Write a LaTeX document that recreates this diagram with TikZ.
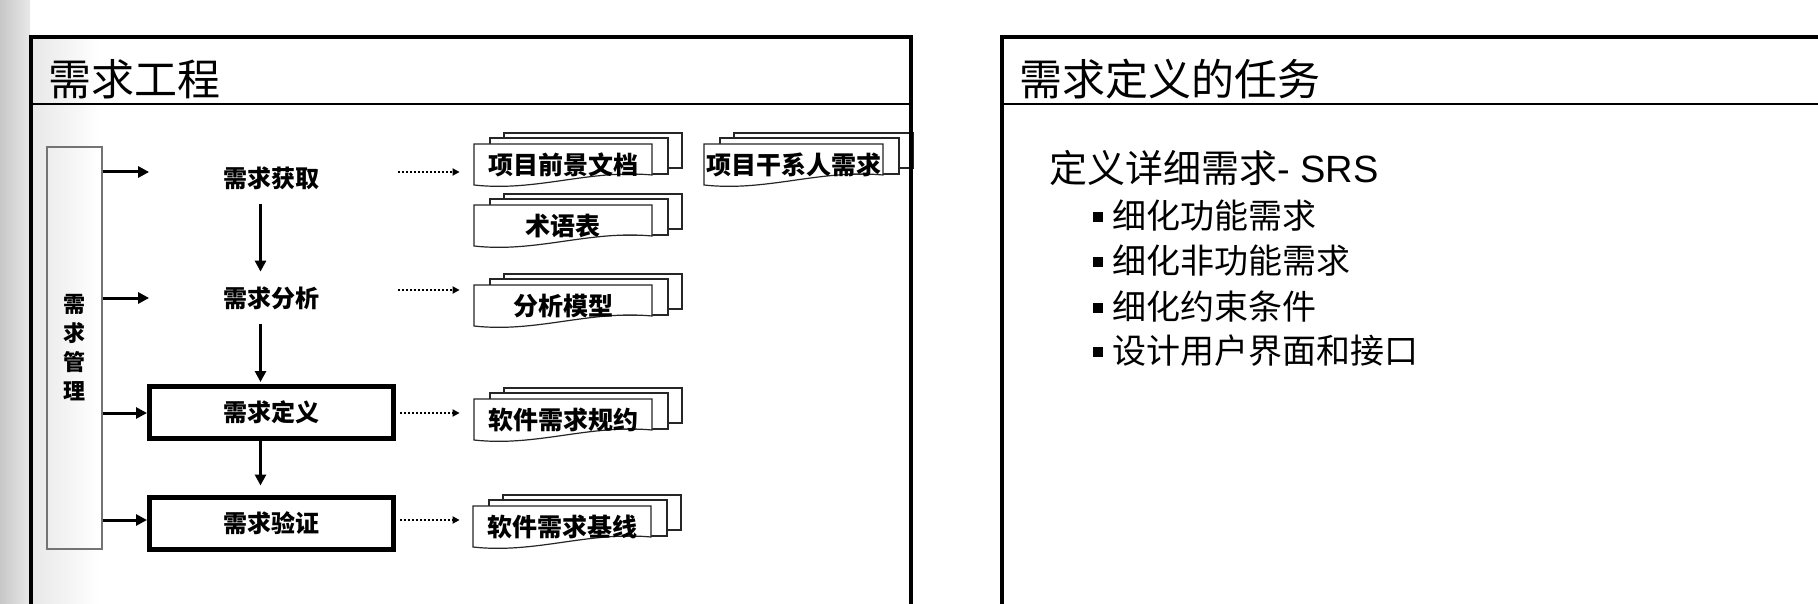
\documentclass[tikz,border=0pt]{standalone}
\usepackage{fontspec}
\setmainfont{Noto Sans CJK SC}
\newfontfamily\arialf{Liberation Sans}
\usetikzlibrary{arrows.meta}
\newcommand{\docstack}[5]{%
  \begin{scope}[shift={(#1,#2)}]
    \draw[doclayer] (30,-11) rectangle ({30+#3},24);
    \draw[doclayer] (16,-6) rectangle ({16+#3},30);
    \draw[doclayer] (0,0) -- (#3,0) -- (#3,31) .. controls ({0.65*#3},25) and ({0.35*#3},48) .. (0,41) -- cycle;
    \node[doclbl, minimum width={#3*0.5pt}, minimum height=20.5pt] (#4) at ({#3/2},21) {#5};
  \end{scope}}
\newcommand{\bul}{\raisebox{3.5pt}{\rule{4.8pt}{4.8pt}}\hspace{4.5pt}}
\begin{document}
\begin{tikzpicture}[x=0.5pt,y=-0.5pt,
  panel/.style={line width=2pt},
  sepline/.style={line width=0.75pt},
  ttl/.style={font=\fontsize{21.5pt}{24pt}\selectfont, anchor=west, inner sep=0},
  lbl/.style={font=\fontsize{12pt}{14pt}\selectfont\bfseries, inner sep=0},
  stepbox/.style={lbl, draw, line width=2.5pt, minimum width=122pt, minimum height=26pt},
  ghostbox/.style={lbl, minimum width=122pt, minimum height=26pt},
  mgmtbox/.style={draw=black!55, line width=0.6pt, minimum width=27.5pt, minimum height=201pt, inner sep=0, font=\fontsize{11pt}{14.5pt}\selectfont\bfseries, align=center},
  arr/.style={line width=1.5pt, -{Triangle[length=5.5pt,width=5.5pt]}},
  dotarr/.style={line width=1.2pt, dash pattern=on 1.1pt off 0.9pt, -{Triangle[length=3.5pt,width=3.5pt]}},
  doclayer/.style={draw=black!85, line width=0.6pt, fill=white},
  doclbl/.style={font=\fontsize{12.5pt}{14pt}\selectfont\bfseries, inner sep=0},
  body/.style={anchor=west, inner sep=0, font=\fontsize{17pt}{20pt}\selectfont},
]
\useasboundingbox (0,0) rectangle (1818,604);
\fill[white] (0,0) rectangle (1818,604);
\shade[left color=black!22, right color=black!9] (0,0) rectangle (30,604);
\shade[left color=black!9, right color=white] (33,39.5) rectangle (100,604);

% titles
\node[ttl] (t1) at (48,79) {需求工程};
\node[ttl] (t2) at (1019,79) {需求定义的任务};

% left diagram
\node[mgmtbox] (mg) at (74.5,348) {需\\求\\管\\理};
\node[ghostbox] (hq) at (271.5,178) {需求获取};
\node[ghostbox] (ha) at (271.5,298) {需求分析};
\node[stepbox] (hd) at (271.5,412.5) {需求定义};
\node[stepbox] (hv) at (271.5,523.5) {需求验证};

\coordinate (r1) at (0,172);
\coordinate (r2) at (0,298);
\coordinate (q2) at (0,290);
\coordinate (r3) at (0,413);
\coordinate (r4) at (0,520);

\draw[arr] (mg.east |- r1) -- (hq.west |- r1);
\draw[arr] (mg.east |- r2) -- (ha.west |- r2);
\draw[arr] (mg.east |- r3) -- (hd.west |- r3);
\draw[arr] (mg.east |- r4) -- (hv.west |- r4);

\draw[arr] ([xshift=-5.5pt]hq.south) -- ([xshift=-5.5pt]ha.north);
\draw[arr, shorten >=1pt] ([xshift=-5.5pt]ha.south) -- ([xshift=-5.5pt]hd.north);
\draw[arr, shorten >=4.75pt] ([xshift=-5.5pt]hd.south) -- ([xshift=-5.5pt]hv.north);

% documents
\docstack{474}{144}{178}{d1}{项目前景文档}
\docstack{474}{205}{178}{d2}{术语表}
\docstack{474}{285}{178}{d3}{分析模型}
\docstack{474}{399}{178}{d4}{软件需求规约}
\docstack{473}{506}{178}{d5}{软件需求基线}
\docstack{704}{144}{179}{d6}{项目干系人需求}

\draw[dotarr, shorten <=2pt, shorten >=7pt] (hq.east |- r1) -- (d1.west |- r1);
\draw[dotarr, shorten <=2pt, shorten >=7pt] (ha.east |- q2) -- (d3.west |- q2);
\draw[dotarr, shorten <=2pt, shorten >=7pt] (hd.east |- r3) -- (d4.west |- r3);
\draw[dotarr, shorten <=2pt, shorten >=6.5pt] (hv.east |- r4) -- (d5.west |- r4);

% right body
\node[anchor=west, inner sep=0, font=\fontsize{19pt}{22pt}\selectfont] (b0) at (1049,168) {定义详细需求{\arialf - SRS}};
\node[body] (b1) at (1093,216) {\bul 细化功能需求};
\node[body] (b2) at (1093,261) {\bul 细化非功能需求};
\node[body] (b3) at (1093,307) {\bul 细化约束条件};
\node[body] (b4) at (1093,351) {\bul 设计用户界面和接口};

% panels
\draw[panel] (31,606) -- (31,37.5) -- (911,37.5) -- (911,606);
\draw[sepline] (31,104) -- (911,104);
\draw[panel] (1002,606) -- (1002,37.5) -- (1820,37.5);
\draw[sepline] (1002,104) -- (1820,104);
\end{tikzpicture}
\end{document}
